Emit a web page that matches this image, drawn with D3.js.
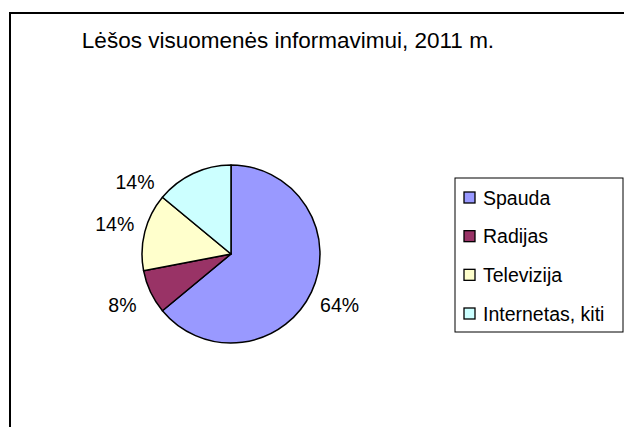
<!DOCTYPE html>
<html lang="lt">
  <head>
    <meta charset="UTF-8" />
    <title>Lėšos visuomenės informavimui</title>
    <script src="https://cdn.jsdelivr.net/npm/d3@7.6.1/dist/d3.min.js"></script>
    <style>
      body { margin: 0; background: #fff; }
      svg { display: block; font-family: 'Liberation Sans', Arial, sans-serif; }
    </style>
  </head>
  <body>
    <div id="box"></div>
    <script>
      const width = 624;
      const height = 427;

      // duomenys
      const categories = ['Spauda', 'Radijas', 'Televizija', 'Internetas, kiti'];
      const values = [64, 8, 14, 14];
      const colors = ['#9999ff', '#993366', '#ffffcc', '#ccffff'];
      const title = 'Lėšos visuomenės informavimui, 2011 m.';

      const svg = d3.select('#box').append('svg').attr('width', width).attr('height', height);

      // rėmelis
      svg.append('rect')
        .attr('x', 10).attr('y', 13)
        .attr('width', 640).attr('height', 440)
        .attr('fill', '#fff')
        .attr('stroke', '#000')
        .attr('stroke-width', 2);

      svg.append('text')
        .attr('x', 288).attr('y', 48)
        .attr('text-anchor', 'middle')
        .attr('font-size', 22.5)
        .text(title);

      // pyragas
      const cx = 231, cy = 254, r = 89;
      const pie = d3.pie().sort(null).value(d => d);
      const arcs = pie(values);
      const arc = d3.arc().innerRadius(0).outerRadius(r);

      const g = svg.append('g').attr('transform', `translate(${cx},${cy})`);
      g.selectAll('path')
        .data(arcs)
        .enter()
        .append('path')
        .attr('d', arc)
        .attr('fill', (d, i) => colors[i])
        .attr('stroke', '#000')
        .attr('stroke-width', 1.5)
        .attr('stroke-linejoin', 'round');

      // etiketės ant pusiaukampinės, bet ne aukščiau/žemiau nei 0.6 spindulio
      const rl = r + 31;
      function labelPos(d) {
        const a = (d.startAngle + d.endAngle) / 2;
        let x = Math.sin(a) * rl;
        let y = -Math.cos(a) * rl;
        const lim = 0.6 * rl;
        if (Math.abs(y) > lim) {
          y = Math.sign(y) * lim;
          x = Math.sign(x) * Math.sqrt(rl * rl - y * y);
        }
        return [x, y];
      }

      const total = d3.sum(values);
      g.selectAll('.lbl')
        .data(arcs)
        .enter()
        .append('text')
        .attr('class', 'lbl')
        .attr('x', d => labelPos(d)[0])
        .attr('y', d => labelPos(d)[1])
        .attr('dy', '0.35em')
        .attr('text-anchor', 'middle')
        .attr('font-size', 19.5)
        .text(d => Math.round(d.data / total * 100) + '%');

      // legenda
      const lx = 455, ly = 178, lw = 168, lh = 154;
      const legend = svg.append('g');
      legend.append('rect')
        .attr('x', lx).attr('y', ly)
        .attr('width', lw).attr('height', lh)
        .attr('fill', '#fff')
        .attr('stroke', '#000')
        .attr('stroke-width', 1);

      const rowY = d3.scalePoint().domain(categories).range([198, 314]);
      const items = legend.selectAll('.item')
        .data(categories)
        .enter()
        .append('g')
        .attr('class', 'item')
        .attr('transform', d => `translate(0,${rowY(d)})`);
      items.append('rect')
        .attr('x', 464).attr('y', -6)
        .attr('width', 11).attr('height', 11)
        .attr('fill', (d, i) => colors[i])
        .attr('stroke', '#000')
        .attr('stroke-width', 1.3);
      items.append('text')
        .attr('x', 483).attr('y', 0)
        .attr('dy', '0.35em')
        .attr('font-size', 19.5)
        .text(d => d);
    </script>
  </body>
</html>
